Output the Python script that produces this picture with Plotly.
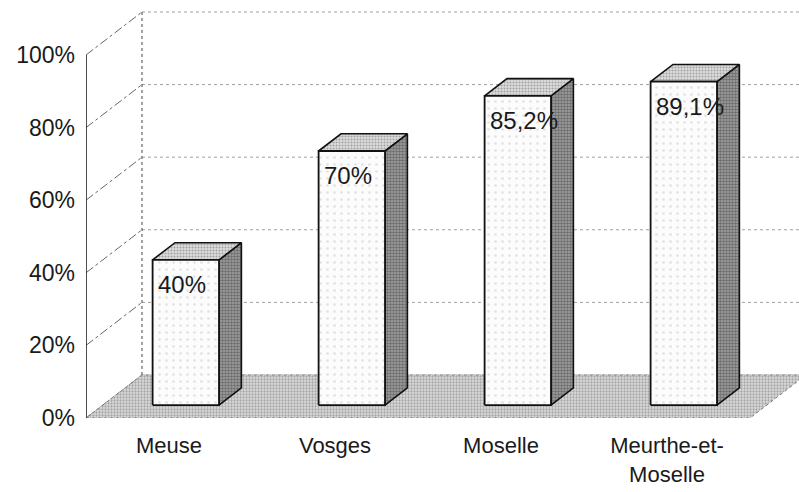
import plotly.graph_objects as go

categories = ["Meuse", "Vosges", "Moselle", "Meurthe-et-<br>Moselle"]
values = [40, 70, 85.2, 89.1]
value_labels = ["40%", "70%", "85,2%", "89,1%"]
y_ticks = [0, 20, 40, 60, 80, 100]
y_tick_labels = ["0%", "20%", "40%", "60%", "80%", "100%"]

# pseudo-3D geometry (data units)
DX = 0.3373      # depth offset along x
DY = 11.85       # depth offset along y
F, B = 0.30, 0.70  # bar front/back depth fractions
HW = 0.20        # half width of bar
X0, X1 = -0.5, 3.5
XMAX = -0.5 + 713 / 166
YMAX = 418 / 3.63

fig = go.Figure()

def poly(xs, ys, fill=None, line=None, pattern=None):
    kw = {}
    if fill is not None:
        kw["fill"] = "toself"
        kw["fillcolor"] = fill
    if pattern is not None:
        kw["fillpattern"] = pattern
    fig.add_trace(go.Scatter(x=xs, y=ys, mode="lines", line=line or dict(width=0),
                             hoverinfo="skip", showlegend=False, **kw))

# back wall gridlines (dotted)
for t in y_ticks:
    poly([X0 + DX, XMAX + 1], [t + DY, t + DY], line=dict(color="#a0a0a0", width=1, dash="dot"))
# left wall diagonals
for t in y_ticks:
    poly([X0, X0 + DX], [t, t + DY], line=dict(color="#666", width=1, dash="dashdot"))
# back wall left vertical
poly([X0 + DX, X0 + DX], [DY, 100 + DY], line=dict(color="#444", width=1, dash="dot"))

# floor
poly([X0, X1, X1 + DX, X0 + DX, X0], [0, 0, DY, DY, 0], fill="#cfcfcf",
     line=dict(color="#777", width=1, dash="dot"),
     pattern=dict(shape=".", fgcolor="#6e6e6e", bgcolor="#dcdcdc", size=3, solidity=0.45))

# front axis line
poly([X0, X0], [0, 100], line=dict(color="#222", width=1.6))

# bars (front face, side, top)
for i, v in enumerate(values):
    xl, xr = i - HW, i + HW
    # side
    poly([xr + F * DX, xr + B * DX, xr + B * DX, xr + F * DX, xr + F * DX],
         [F * DY, B * DY, v + B * DY, v + F * DY, F * DY],
         fill="#8e8e8e", line=dict(color="#111", width=1.6),
         pattern=dict(shape=".", fgcolor="#333333", bgcolor="#a4a4a4", size=3, solidity=0.55))
    # top
    poly([xl + F * DX, xr + F * DX, xr + B * DX, xl + B * DX, xl + F * DX],
         [v + F * DY, v + F * DY, v + B * DY, v + B * DY, v + F * DY],
         fill="#d0d0d0", line=dict(color="#111", width=1.6),
         pattern=dict(shape=".", fgcolor="#666666", bgcolor="#dedede", size=3, solidity=0.4))
    # front
    poly([xl + F * DX, xr + F * DX, xr + F * DX, xl + F * DX, xl + F * DX],
         [F * DY, F * DY, v + F * DY, v + F * DY, F * DY],
         fill="#fafafa", line=dict(color="#111", width=1.8),
         pattern=dict(shape=".", fgcolor="#c8c8c8", bgcolor="#fcfcfc", size=7, solidity=0.12))
    fig.add_annotation(x=xl + F * DX, y=v + F * DY, text=value_labels[i], showarrow=False,
                       xanchor="left", yanchor="top", xshift=3, yshift=-9,
                       font=dict(family="Liberation Sans", size=24, color="#1a1a1a"))

fig.update_layout(
    width=799, height=492,
    margin=dict(l=86, r=0, t=0, b=74, autoexpand=False),
    paper_bgcolor="white", plot_bgcolor="white",
    xaxis=dict(range=[X0, XMAX], tickvals=list(range(len(categories))), ticktext=categories,
               showgrid=False, zeroline=False, showline=False, ticks="", automargin=False,
               ticklabelstandoff=12,
               tickfont=dict(family="Liberation Sans", size=22, color="#1a1a1a")),
    yaxis=dict(range=[0, YMAX], tickvals=y_ticks, ticktext=y_tick_labels,
               showgrid=False, zeroline=False, showline=False, ticks="", automargin=False,
               ticklabelstandoff=10,
               tickfont=dict(family="Liberation Sans", size=23, color="#1a1a1a")),
)

fig.write_html("out.html", config={"displayModeBar": False},
               post_script="document.body.style.margin='0';")
